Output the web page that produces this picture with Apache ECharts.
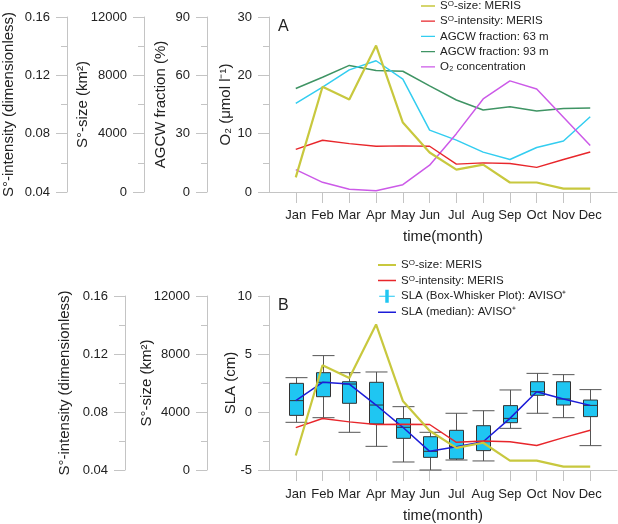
<!DOCTYPE html>
<html><head><meta charset="utf-8">
<script src="https://cdn.jsdelivr.net/npm/echarts@6/dist/echarts.min.js"></script>
<style>html,body{margin:0;padding:0;background:#fff}#c{width:618px;height:524px}</style>
</head><body><div id="c"></div>
<script>
const months = ['Jan','Feb','Mar','Apr','May','Jun','Jul','Aug','Sep','Oct','Nov','Dec'];
const monthPos = [1,2,3,4,5,6,7,8,9,10,11,12];
// S°-size (km2), MERIS
const sizeKm2 = [1000, 7220, 6350, 10040, 4760, 2710, 1530, 1880, 650, 650, 230, 230];
// S°-intensity (dimensionless), MERIS
const intensity = [0.0692, 0.0755, 0.0732, 0.0714, 0.0716, 0.0714, 0.0591, 0.0600, 0.0595, 0.0569, 0.0623, 0.0674];
// AGCW fraction (%)
const agcw63 = [45.6, 53.9, 62.8, 67.5, 58.0, 31.8, 26.7, 20.5, 16.7, 22.9, 26.2, 38.7];
const agcw93 = [53.2, 59.0, 65.1, 62.5, 62.1, 54.6, 47.3, 42.2, 43.9, 41.6, 43.0, 43.2];
// O2 concentration (umol/l)
const o2 = [3.84, 1.66, 0.46, 0.23, 1.26, 4.59, 10.0, 15.95, 19.05, 17.67, 12.8, 7.97];
// SLA box-whisker (cm), AVISO+
const slaLow = [-0.89, -0.49, -1.75, -2.96, -4.31, -5.0, -4.14, -4.22, -1.41, -0.11, -0.49, -2.9];
const slaQ1 = [-0.29, 1.32, 0.75, -1.03, -2.27, -3.91, -4.05, -3.33, -0.92, 1.44, 0.6, -0.4];
const slaMedian = [0.98, 2.56, 2.41, 0.6, -1.32, -3.39, -2.99, -2.56, -0.55, 1.75, 1.12, 0.57];
const slaQ3 = [2.47, 3.39, 2.61, 2.56, -0.57, -2.13, -1.58, -1.18, 0.55, 2.61, 2.61, 1.03];
const slaHigh = [2.96, 4.86, 3.39, 3.45, 0.46, -1.75, -0.11, 0.11, 1.9, 3.33, 3.22, 1.93];

const FONT = 'Liberation Sans, Arial, sans-serif';
const AXC = '#c4c4c4';
const TXT = '#222';
const C = {size:'#c8c83e', inten:'#e8262b', a63:'#33cdf0', a93:'#3f9464', o2:'#cc5ae8', med:'#1c1cd8', box:'#1fc6f2'};

const pairs = arr => arr.map((v,i)=>[monthPos[i], v]);

function xAxis(grid, gap, margin){
  return {
    type:'value', gridIndex:grid, min:0, max:13, interval:1,
    axisLine:{show:true, onZero:false, lineStyle:{color:AXC}},
    axisTick:{show:true, length:11, lineStyle:{color:AXC}, customValues:monthPos},
    axisLabel:{color:TXT, fontSize:13, fontFamily:FONT, margin:margin, customValues:monthPos,
      formatter:v=>months[Math.round(v)-1] || ''},
    splitLine:{show:false},
    name:'time(month)', nameLocation:'middle', nameGap:gap, nameMoveOverlap:false,
    nameTextStyle:{color:TXT, fontSize:15, fontFamily:FONT}
  };
}
function yAxis(grid, offset, min, max, interval, name, nameGap, fmt){
  return {
    type:'value', gridIndex:grid, position:'left', offset:offset, min:min, max:max, interval:interval,
    axisLine:{show:true, onZero:false, lineStyle:{color:AXC}},
    axisTick:{show:true, length:11, lineStyle:{color:AXC}},
    minorTick:{show:true, splitNumber:2, length:6, lineStyle:{color:AXC}},
    axisLabel:{color:TXT, fontSize:13, fontFamily:FONT, margin:17, formatter:fmt},
    splitLine:{show:false},
    name:name, nameLocation:'middle', nameGap:nameGap, nameRotate:90, nameMoveOverlap:false,
    nameTextStyle:{color:TXT, fontSize:15, fontFamily:FONT}
  };
}
const f2 = v=>v.toFixed(2);
const f0 = v=>String(Math.round(v));

function line(name, data, xi, yi, color, w, z){
  return {type:'line', name:name, xAxisIndex:xi, yAxisIndex:yi, data:pairs(data),
    symbol:'none', showSymbol:false, lineStyle:{color:color, width:w}, itemStyle:{color:color}, z:z||3, animation:false};
}

const boxData = monthPos.map((m,i)=>[m, slaLow[i], slaQ1[i], slaMedian[i], slaQ3[i], slaHigh[i]]);

const boxSeries = {
  type:'custom', name:'SLA (Box-Whisker Plot): AVISO⁺', xAxisIndex:1, yAxisIndex:6,
  data:boxData, encode:{x:0, y:[1,2,3,4,5]}, itemStyle:{color:C.box}, z:2, animation:false,
  renderItem:function(params, api){
    const x = api.value(0);
    const lo = api.coord([x, api.value(1)]);
    const q1 = api.coord([x, api.value(2)]);
    const md = api.coord([x, api.value(3)]);
    const q3 = api.coord([x, api.value(4)]);
    const hi = api.coord([x, api.value(5)]);
    const cx = Math.round(lo[0]) + 0.5, bw = 14, cw = 22;
    const ws = {stroke:'#555', lineWidth:1};
    return {type:'group', children:[
      {type:'line', shape:{x1:cx,y1:hi[1],x2:cx,y2:q3[1]}, style:ws},
      {type:'line', shape:{x1:cx,y1:q1[1],x2:cx,y2:lo[1]}, style:ws},
      {type:'line', shape:{x1:cx-cw/2,y1:hi[1],x2:cx+cw/2,y2:hi[1]}, style:ws},
      {type:'line', shape:{x1:cx-cw/2,y1:lo[1],x2:cx+cw/2,y2:lo[1]}, style:ws},
      {type:'rect', shape:{x:cx-bw/2, y:q3[1], width:bw, height:q1[1]-q3[1]}, style:{fill:C.box, stroke:'#333', lineWidth:1}},
      {type:'line', shape:{x1:cx-bw/2,y1:md[1],x2:cx+bw/2,y2:md[1]}, style:{stroke:'#333', lineWidth:1}}
    ]};
  }
};

const legendText = {color:TXT, fontSize:11.5, fontFamily:FONT, padding:0,
  rich:{sup:{fontSize:8, verticalAlign:'top', color:TXT, fontFamily:FONT}}};
const legendFmt = n => n.replace(/^SO/, 'S{sup|O}');
// legend icons: horizontal bar centred in the icon box (tiny corner points keep the box size)
const thin = 'path://M0,5.25H18V6.75H0Z M0,0L0.01,0L0,0.01Z M18,12L17.99,12L18,11.99Z';
const thick = 'path://M0,4.9H18V7.1H0Z M0,0L0.01,0L0,0.01Z M18,12L17.99,12L18,11.99Z';
const boxIcon = 'path://M0,7H7V0H11V7H18V8H11V15H7V8H0Z';

const option = {
  backgroundColor:'#fff',
  animation:false,
  grid:[
    {left:269, top:17, width:348, height:175, outerBoundsMode:'none', containLabel:false},
    {left:269, top:296, width:348, height:174, outerBoundsMode:'none', containLabel:false}
  ],
  xAxis:[xAxis(0, 37, 17), xAxis(1, 38, 18)],
  yAxis:[
    yAxis(0, 202, 0.04, 0.16, 0.04, 'S°-intensity (dimensionless)', 51, f2),
    yAxis(0, 125, 0, 12000, 4000, 'S°-size (km²)', 54, f0),
    yAxis(0, 62, 0, 90, 30, 'AGCW fraction (%)', 39, f0),
    yAxis(0, 0, 0, 30, 10, 'O₂ (μmol l⁻¹)', 36, f0),
    yAxis(1, 144, 0.04, 0.16, 0.04, 'S°-intensity (dimensionless)', 53, f2),
    yAxis(1, 62, 0, 12000, 4000, 'S°-size (km²)', 53, f0),
    yAxis(1, 0, -5, 10, 5, 'SLA (cm)', 31, f0)
  ],
  legend:[
    {orient:'vertical', left:421, top:0, padding:0, itemWidth:14, itemHeight:12, itemGap:3.2,
     textStyle:legendText, formatter:legendFmt,
     data:[{name:'SO-size: MERIS', icon:thick},{name:'SO-intensity: MERIS', icon:thin},
       {name:'AGCW fraction: 63 m', icon:thin},{name:'AGCW fraction: 93 m', icon:thin},
       {name:'O₂ concentration', icon:thin}]},
    {orient:'vertical', left:378, top:259, padding:0, itemWidth:18, itemHeight:13, itemGap:3.4,
     textStyle:legendText, formatter:legendFmt,
     data:[{name:'SO-size: MERIS', icon:thick},{name:'SO-intensity: MERIS', icon:thin},
       {name:'SLA (Box-Whisker Plot): AVISO⁺', icon:boxIcon, itemStyle:{color:C.box}},
       {name:'SLA (median): AVISO⁺', icon:thin}]}
  ],
  graphic:[
    {type:'text', left:278, top:19, style:{text:'A', fontSize:16, fontFamily:FONT, fill:TXT}},
    {type:'text', left:278, top:298, style:{text:'B', fontSize:16, fontFamily:FONT, fill:TXT}}
  ],
  series:[
    line('AGCW fraction: 93 m', agcw93, 0, 2, C.a93, 1.5),
    line('AGCW fraction: 63 m', agcw63, 0, 2, C.a63, 1.5),
    line('O₂ concentration', o2, 0, 3, C.o2, 1.5),
    line('SO-intensity: MERIS', intensity, 0, 0, C.inten, 1.4),
    line('SO-size: MERIS', sizeKm2, 0, 1, C.size, 2.2, 4),
    boxSeries,
    line('SLA (median): AVISO⁺', slaMedian, 1, 6, C.med, 1.5, 4),
    line('SO-intensity: MERIS', intensity, 1, 4, C.inten, 1.4, 4),
    line('SO-size: MERIS', sizeKm2, 1, 5, C.size, 2.2, 5)
  ]
};
const chart = echarts.init(document.getElementById('c'), null, {renderer:'canvas'});
chart.setOption(option);
</script></body></html>
